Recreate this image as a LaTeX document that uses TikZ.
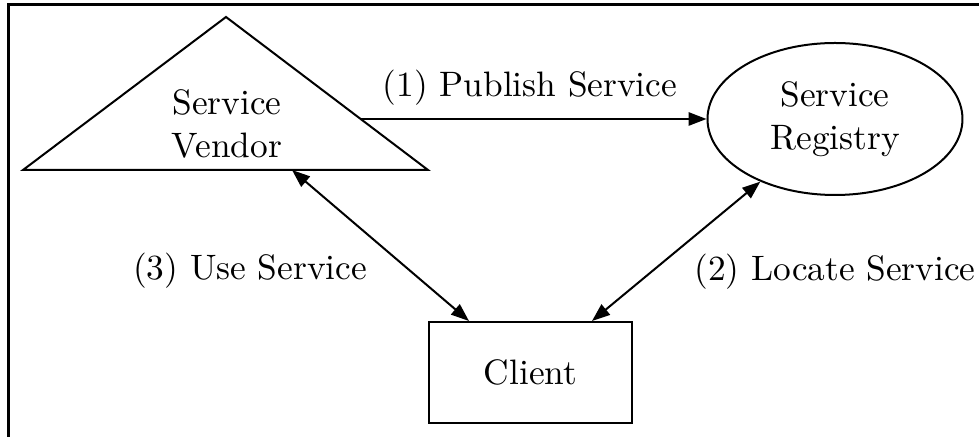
\documentclass[tikz,border=0pt]{standalone}
\usetikzlibrary{arrows.meta,shapes.geometric,calc}
\begin{document}
\begin{tikzpicture}[x=0.3pt,y=-0.3pt,
  every node/.style={font=\fontsize{10.6}{12.9}\selectfont},
  shapeline/.style={draw,line width=0.6pt},
  conn/.style={line width=0.6pt,{Triangle[length=5.4pt,width=4pt]}-{Triangle[length=5.4pt,width=4pt]}},
  conn1/.style={line width=0.6pt,-{Triangle[length=5.4pt,width=4pt]}},
  lbl/.style={anchor=base,inner sep=0pt}]
\useasboundingbox (0,0) rectangle (979,437);
% frame (left and top edges visible)
\draw[line width=0.9pt] (8.5,437) -- (8.5,5) -- (979,5);
% service vendor triangle
\draw[shapeline] (23,170) -- (226,17) -- (428,170) -- cycle;
\node[align=center,inner sep=0pt] (vendor) at (227,124) {Service\\Vendor};
\coordinate (vA) at (360.7,119);
\coordinate (vB) at (292,170);
% registry
\node[shapeline,ellipse,minimum width=76.5pt,minimum height=45.6pt,inner sep=0pt,align=center] (reg) at (835,119) {Service\\Registry};
% client
\node[shapeline,rectangle,minimum width=60.9pt,minimum height=30.3pt,inner sep=0pt] (client) at (530.5,372.5) {Client};
\coordinate (cA) at ($(client.north west)!0.2!(client.north east)$);
\coordinate (cB) at ($(client.north west)!0.8!(client.north east)$);
% connectors
\draw[conn1] (vA) -- (reg.west);
\draw[conn] (vB) -- (cA);
\draw[conn] (cB) -- (reg.220);
% labels
\node[lbl] (l1) at (530,97) {(1) Publish Service};
\node[lbl] (l3) at (250,280) {(3) Use Service};
\node[lbl] (l2) at (835,281) {(2) Locate Service};
\end{tikzpicture}
\end{document}
